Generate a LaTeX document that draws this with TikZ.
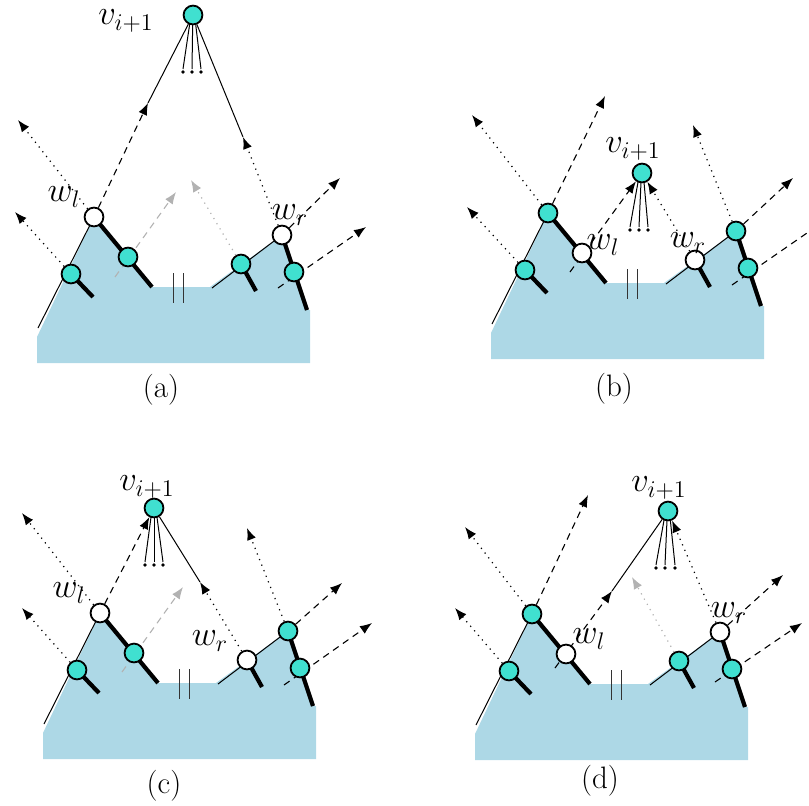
\documentclass[tikz,border=0pt]{standalone}
\usetikzlibrary{arrows.meta}
\pgfdeclarelayer{filllayer}
\pgfdeclarelayer{linelayer}
\pgfsetlayers{filllayer,linelayer,main}
\definecolor{panelblue}{HTML}{ADD8E6}
\definecolor{turq}{HTML}{40E0D0}
\tikzset{
  gnode/.style={circle, draw=black, line width=0.9pt, fill=turq, inner sep=0pt, minimum size=9.4pt},
  wnode/.style={gnode, fill=white},
  thinedge/.style={line width=0.5pt},
  thickedge/.style={line width=2.1pt},
  tiphead/.style={-{Latex[length=6pt,width=4.6pt]}},
  dotray/.style={line width=0.6pt, dash pattern=on 0.6pt off 2.4pt, tiphead},
  dashray/.style={line width=0.55pt, dash pattern=on 3.4pt off 2.6pt, tiphead},
  grayray/.style={draw=gray!60},
  barline/.style={line width=0.5pt, draw=black!80},
  lab/.style={inner sep=0pt, font=\fontsize{17.5}{20}\selectfont},
  captext/.style={inner sep=0pt, font=\fontsize{15.5}{18}\selectfont},
}
\newcommand\basepanel[7]{%
  \node[#2] (#1-1) at (71,274) {};
  \node[#3] (#1-2) at (94,217) {};
  \node[#4] (#1-3) at (128,257) {};
  \node[#5] (#1-4) at (241,264) {};
  \node[#6] (#1-5) at (282,235) {};
  \node[#7] (#1-6) at (294,272) {};
  \coordinate (#1-lb) at (38,328);
  \coordinate (#1-lt) at (152,287);
  \coordinate (#1-rb) at (212,288);
  \coordinate (#1-rt) at (307,310);
  \coordinate (#1-s1) at (93,297);
  \coordinate (#1-s4) at (256,291);
  \coordinate (#1-ba) at (173,273);
  \coordinate (#1-bb) at (173,303);
  \coordinate (#1-bc) at (183,273);
  \coordinate (#1-bd) at (183,303);
  \begin{pgfonlayer}{filllayer}
    \fill[panelblue] (37,363) -- (37,337) -- (#1-2.center) -- (#1-lt) -- (210,287)
      -- (#1-5.center) -- (#1-rt) -- (310,310) -- (310,363) -- cycle;
  \end{pgfonlayer}
  \begin{pgfonlayer}{linelayer}
    \draw[thinedge] (#1-lb) -- (#1-2.center);
    \draw[thickedge] (#1-2.center) -- (#1-lt);
    \draw[thickedge] (#1-1.center) -- (#1-s1);
    \draw[thinedge] (#1-rb) -- (#1-5.center);
    \draw[thickedge] (#1-4.center) -- (#1-s4);
    \draw[thickedge] (#1-5.center) -- (#1-rt);
    \draw[barline] (#1-ba) -- (#1-bb);
    \draw[barline] (#1-bc) -- (#1-bd);
  \end{pgfonlayer}
}
\newcommand\fanout[4]{% prefix, three dx
  \begin{pgfonlayer}{linelayer}
    \draw[thinedge] (#1-v.center) ++(#2*0.3,7) -- ++(#2*0.7,47);
    \draw[thinedge] (#1-v.center) ++(#3*0.3,7) -- ++(#3*0.7,47);
    \draw[thinedge] (#1-v.center) ++(#4*0.3,7) -- ++(#4*0.7,47);
    \fill (#1-v.center) ++(#2,57) circle (0.9pt);
    \fill (#1-v.center) ++(#3,57) circle (0.9pt);
    \fill (#1-v.center) ++(#4,57) circle (0.9pt);
  \end{pgfonlayer}
}
\begin{document}
\begin{tikzpicture}[x=0.5pt,y=-0.5pt]
\useasboundingbox (0,0) rectangle (809,805);

% ---------------- (a)
\begin{scope}
  \basepanel{a}{gnode}{wnode}{gnode}{gnode}{wnode}{gnode}
  \node[gnode] (a-v) at (193,15) {};
  \fanout{a}{-10}{-1}{8}
  \coordinate (a-m3) at (148,103);
  \coordinate (a-m6) at (243,137);
  \coordinate (a-r4) at (115,277);
  \coordinate (a-r8) at (278,288);
  \begin{pgfonlayer}{linelayer}
    \draw[dotray] (a-1) -- (15,212);
    \draw[dotray] (a-2) -- (18,120);
    \draw[dashray] (a-2) -- (a-m3);
    \draw[thinedge] (a-m3) -- (a-v);
    \draw[dashray,grayray] (a-r4) -- (176,192);
    \draw[dotray,grayray] (a-4) -- (191,180);
    \draw[dotray] (a-5) -- (a-m6);
    \draw[thinedge] (a-m6) -- (a-v);
    \draw[dashray] (a-5) -- (340,178);
    \draw[dashray] (a-r8) -- (366,227);
  \end{pgfonlayer}
\end{scope}
\node[lab] (a-vl) at (126,21) {$v_{i+1}$};
\node[lab] (a-wl) at (64,197) {$w_l$};
\node[lab] (a-wr) at (290,215) {$w_r$};
\node[captext] (a-cap) at (161,390) {(a)};

% ---------------- (b)
\begin{scope}[shift={(454,-4)}]
  \basepanel{b}{gnode}{gnode}{wnode}{wnode}{gnode}{gnode}
  \node[gnode] (b-v) at (188,177) {};
  \fanout{b}{-12}{-3}{6}
  \coordinate (b-r4) at (116,276);
  \coordinate (b-r8) at (278,289);
  \begin{pgfonlayer}{linelayer}
    \draw[dotray] (b-1) -- (13,211);
    \draw[dotray] (b-2) -- (18,119);
    \draw[dashray] (b-2) -- (151,100);
    \draw[dashray] (b-r4) -- (b-v);
    \draw[dotray] (b-4) -- (b-v);
    \draw[dotray] (b-5) -- (239,129);
    \draw[dashray] (b-5) -- (339,182);
    \draw[dashray,-] (b-r8) -- (355,235.6);
  \end{pgfonlayer}
\end{scope}
\node[lab] (b-vl) at (633,149) {$v_{i+1}$};
\node[lab] (b-wl) at (603,245) {$w_l$};
\node[lab] (b-wr) at (688,243) {$w_r$};
\node[captext] (b-cap) at (614,389) {(b)};

% ---------------- (c)
\begin{scope}[shift={(6,396)}]
  \basepanel{c}{gnode}{wnode}{gnode}{wnode}{gnode}{gnode}
  \node[gnode] (c-v) at (148,112) {};
  \fanout{c}{-9}{0}{9}
  \coordinate (c-m5) at (194,186);
  \coordinate (c-r4) at (116,276);
  \coordinate (c-r8) at (278,289);
  \begin{pgfonlayer}{linelayer}
    \draw[dotray] (c-1) -- (16,212);
    \draw[dotray] (c-2) -- (16,117);
    \draw[dashray] (c-2) -- (c-v);
    \draw[dashray,grayray] (c-r4) -- (177,191);
    \draw[dotray] (c-4) -- (c-m5);
    \draw[thinedge] (c-m5) -- (c-v);
    \draw[dotray] (c-5) -- (241,132);
    \draw[dashray] (c-5) -- (336,187);
    \draw[dashray] (c-r8) -- (366,227);
  \end{pgfonlayer}
\end{scope}
\node[lab] (c-vl) at (147,487) {$v_{i+1}$};
\node[lab] (c-wl) at (69,593) {$w_l$};
\node[lab] (c-wr) at (210,641) {$w_r$};
\node[captext] (c-cap) at (164,786) {(c)};

% ---------------- (d)
\begin{scope}[shift={(438,397)}]
  \basepanel{d}{gnode}{gnode}{wnode}{gnode}{wnode}{gnode}
  \node[gnode] (d-v) at (230,114) {};
  \fanout{d}{-12}{-3}{7}
  \coordinate (d-m4) at (174,194);
  \coordinate (d-r4) at (117,271);
  \coordinate (d-r8) at (277,285);
  \begin{pgfonlayer}{linelayer}
    \draw[dotray] (d-1) -- (17,211);
    \draw[dotray] (d-2) -- (27,130);
    \draw[dashray] (d-2) -- (150,98);
    \draw[dashray] (d-r4) -- (d-m4);
    \draw[thinedge] (d-m4) -- (d-v);
    \draw[dotray,grayray] (d-4) -- (194,180);
    \draw[dotray] (d-5) -- (d-v);
    \draw[dashray] (d-5) -- (345,178);
    \draw[dashray] (d-r8) -- (364,226);
  \end{pgfonlayer}
\end{scope}
\node[lab] (d-vl) at (659,488) {$v_{i+1}$};
\node[lab] (d-wl) at (589,639) {$w_l$};
\node[lab] (d-wr) at (729,613) {$w_r$};
\node[captext] (d-cap) at (600,781) {(d)};
\end{tikzpicture}
\end{document}
